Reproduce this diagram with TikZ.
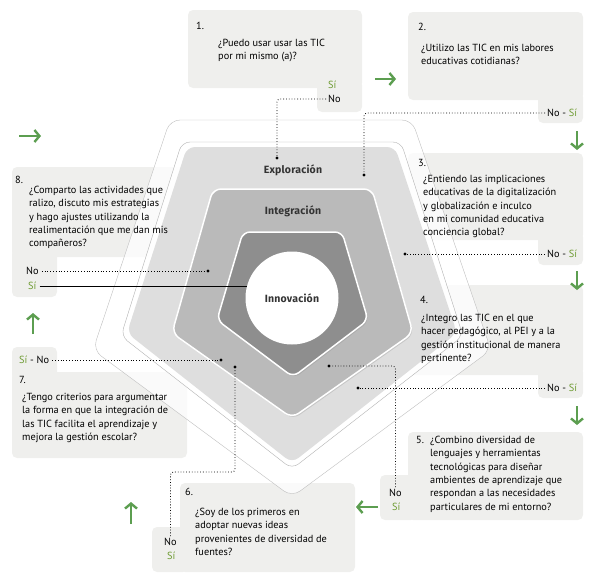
\documentclass[tikz,border=0pt]{standalone}
\usepackage{fontspec}
\setmainfont{PT Sans}
\newfontfamily\lvlfont[LetterSpace=2]{Fira Sans}
\usepackage{tikz}
\usetikzlibrary{arrows.meta}
\usetikzlibrary{shadows}

\definecolor{flowgreen}{RGB}{92,158,80}
\definecolor{sigreen}{RGB}{110,155,50}
\definecolor{boxgray}{RGB}{239,239,237}
\definecolor{expgray}{RGB}{222,222,222}
\definecolor{intgray}{RGB}{186,186,186}
\definecolor{inngray}{RGB}{142,142,142}

\begin{document}
\begin{tikzpicture}[x=1pt,y=-1pt]
\tikzset{
box/.style = {fill=boxgray, rounded corners=5pt},
num/.style = {anchor=north west, inner sep=0pt,
              font=\fontsize{10.3}{13.3}\selectfont},
quest/.style = {anchor=north west, inner sep=0pt, align=left,
                font=\fontsize{10.3}{13.3}\selectfont},
answ/.style = {anchor=west, inner sep=0pt,
               font=\fontsize{10.3}{13.3}\selectfont},
level/.style = {inner sep=0pt, text=black!80,
                font=\lvlfont\bfseries\fontsize{10.5}{12}\selectfont},
dotline/.style = {dotted, line width=0.8pt, rounded corners=3pt},
blob/.style = {circle, fill=black, inner sep=0pt, minimum size=3.2pt},
flow/.style = {draw=flowgreen, line width=2.4pt,
               -{Straight Barb[length=5pt,width=12pt]}}
}
\useasboundingbox (0,0) rectangle (595,584);

\fill[box] (188,10) rectangle (362,88);
\fill[box] (317,80) rectangle (362,112);
\fill[box] (408,12) rectangle (583,100);
\fill[box] (538,92) rectangle (583,123);
\fill[box] (408,153) rectangle (583,240);
\fill[box] (538,232) rectangle (583,265);
\fill[box] (408,285) rectangle (583,375);
\fill[box] (538,367) rectangle (583,398);
\fill[box] (408,432) rectangle (583,520);
\fill[box] (380,475) rectangle (416,520);
\fill[box] (180,483) rectangle (355,572);
\fill[box] (152,527) rectangle (188,572);
\fill[box] (12,372) rectangle (187,458);
\fill[box] (12,347) rectangle (57,380);
\fill[box] (12,167) rectangle (187,257);
\fill[box] (12,249) rectangle (57,297);

\draw[black!25, fill=white, fill opacity=0.75, rounded corners=10pt]
  (170,120) -- (412,120) -- (491,350) -- (292,497) -- (93,350) -- cycle;
\draw[black!30, fill=white, fill opacity=0.8, rounded corners=8pt]
  (182,142) -- (401,142) -- (463,336) -- (292,469) -- (121,336) -- cycle;
\fill[expgray, rounded corners=8pt]
  (187,147) -- (395,147) -- (457,333) -- (292,463) -- (127,333) -- cycle;
\draw[white, line width=1.5pt, fill=intgray, rounded corners=8pt,
      drop shadow={opacity=0.25, shadow xshift=1pt, shadow yshift=-1.5pt}]
  (213,189) -- (372,189) -- (413,333) -- (292,418) -- (172,333) -- cycle;
\draw[white, line width=1.5pt, fill=inngray, rounded corners=7pt,
      drop shadow={opacity=0.25, shadow xshift=1pt, shadow yshift=-1.5pt}]
  (243,232) -- (342,232) -- (368,320) -- (293,377) -- (217,320) -- cycle;

\node[circle, fill=white, minimum size=93pt, level] (inno) at (292,298) {Innovación};
\node[level] (explo) at (293,170) {Exploración};
\node[level] (integ) at (293,211) {Integración};

\node[num] (n1) at (196,22) {1.};
\node[quest] (q1) at (218,39) {¿Puedo usar usar las TIC\\por mi mismo (a)?};
\node[answ, text=sigreen] (si1) at (328,85) {Sí};
\node[answ] (no1) at (328,99) {No};

\node[num] (n2) at (418,23) {2.};
\node[quest] (q2) at (421,44) {¿Utilizo las TIC en mis labores\\educativas cotidianas?};
\node[answ] (ans2) at (547,113) {No - \textcolor{sigreen}{Sí}};

\node[num] (n3) at (418,159) {3.};
\node[quest] (q3) at (423,175) {¿Entiendo las implicaciones\\educativas de la digitalización\\y globalización e inculco\\en mi comunidad educativa\\conciencia global?};
\node[answ] (ans3) at (547,254) {No - \textcolor{sigreen}{Sí}};

\node[num] (n4) at (420,296) {4.};
\node[quest] (q4) at (421,314) {¿Integro las TIC en el que\\hacer pedagógico, al PEI y a la\\gestión institucional de manera\\pertinente?};
\node[answ] (ans4) at (547,388) {No - \textcolor{sigreen}{Sí}};

\node[num] (n5) at (416,436) {5.};
\node[quest] (q5) at (430,436) {¿Combino diversidad de\\lenguajes y herramientas\\tecnológicas para diseñar\\ambientes de aprendizaje que\\respondan a las necesidades\\particulares de mi entorno?};
\node[answ] (no5) at (389,493) {No};
\node[answ, text=sigreen] (si5) at (392,507) {Sí};

\node[num] (n6) at (185,488) {6.};
\node[quest] (q6) at (195,508) {¿Soy de los primeros en\\adoptar nuevas ideas\\provenientes de diversidad de\\fuentes?};
\node[answ] (no6) at (164,542) {No};
\node[answ, text=sigreen] (si6) at (167,556) {Sí};

\node[answ] (sn7) at (19,360) {\textcolor{sigreen}{Sí} - No};
\node[num] (n7) at (19,376) {7.};
\node[quest] (q7) at (22,393) {¿Tengo criterios para argumentar\\la forma en que la integración de\\las TIC facilita el aprendizaje y\\mejora la gestión escolar?};

\node[num] (n8) at (15,176) {8.};
\node[quest] (q8) at (29,186) {¿Comparto las actividades que\\ralizo, discuto mis estrategias\\y hago ajustes utilizando la\\realimentación que me dan mis\\compañeros?};
\node[answ] (no8) at (26,271) {No};
\node[answ, text=sigreen] (si8) at (28,286) {Sí};

\node[blob] (d1) at (277,158) {};
\node[blob] (d2) at (364,175) {};
\node[blob] (d3) at (405,254) {};
\node[blob] (d4) at (358,388) {};
\node[blob] (d5) at (329,366) {};
\node[blob] (d6) at (235,367) {};
\node[blob] (d7) at (221,360) {};
\node[blob] (d8) at (208,271) {};
\coordinate (k6) at (235,472);

\draw[dotline] ([xshift=-2pt]no1.west) -| (d1);
\draw[dotline] ([xshift=-2pt]ans2.west) -| (d2);
\draw[dotline] ([xshift=-2pt]ans3.west) -- (d3);
\draw[dotline] ([xshift=-2pt]ans4.west) -- (d4);
\draw[dotline] ([yshift=2pt]no5.north) |- (d5);
\draw[dotline] ([yshift=2pt]no6.north) |- (k6) -- (d6);
\draw[dotline] ([xshift=3pt]sn7.east) -- (d7);
\draw[dotline] ([xshift=3pt]no8.east) -- (d8);
\draw[line width=0.8pt] ([xshift=3pt]si8.east) -- (si8.east -| inno.166);

\coordinate (a1) at (375,79);  \coordinate (b1) at (396,79);
\coordinate (a2) at (577,131); \coordinate (b2) at (577,150);
\coordinate (a3) at (577,271); \coordinate (b3) at (577,290);
\coordinate (a4) at (577,406); \coordinate (b4) at (577,425);
\coordinate (a5) at (378,507); \coordinate (b5) at (356,507);
\coordinate (a6) at (131,524); \coordinate (b6) at (131,502);
\coordinate (a7) at (33,334);  \coordinate (b7) at (33,313);
\coordinate (a8) at (19,136);  \coordinate (b8) at (41,136);
\foreach \i in {1,...,8}
  \draw[flow] (a\i) -- (b\i);
\end{tikzpicture}
\end{document}
